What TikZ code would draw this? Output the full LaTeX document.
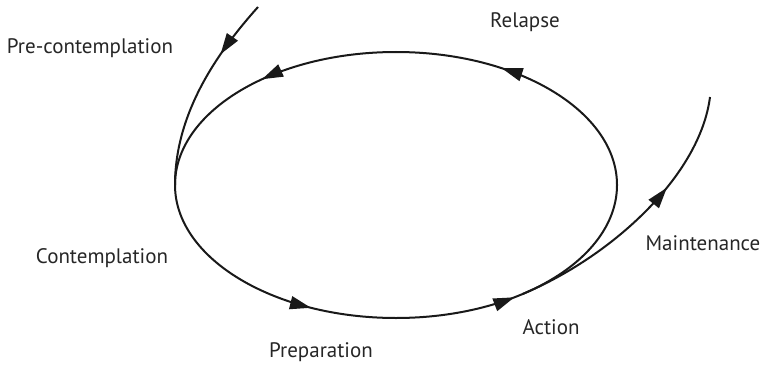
\documentclass[tikz,border=0pt]{standalone}
\usepackage{fontspec}
\setsansfont{PT Sans}
\usetikzlibrary{positioning, calc}
\usetikzlibrary{arrows.meta, decorations.markings}

\begin{document}
\begin{tikzpicture}[x=1pt, y=1pt,
    font=\sffamily\fontsize{21}{24}\selectfont,
    stage/.style={inner sep=0pt, text=black!85},
    flow/.style={line width=2pt, draw=black!90},
    tip/.tip={Triangle[length=21pt, width=13pt]}]
    \useasboundingbox (0,0) rectangle (762,365);

    % the cycle
    \coordinate (C) at (396,180);
    \coordinate (ringE) at (617,180);
    \coordinate (ringW) at (175,180);
    \draw[flow,
          postaction={decorate},
          decoration={markings,
              mark=at position 0.155 with {\arrow{tip}},
              mark=at position 0.372 with {\arrow{tip}},
              mark=at position 0.674 with {\arrow{tip}},
              mark=at position 0.857 with {\arrow{tip}}}]
        (ringE) arc[start angle=0, end angle=360, x radius=221, y radius=133];

    % way in and way out
    \coordinate (in) at (258,358);
    \coordinate (leave) at ($(C)+(305:221 and 133)$);
    \coordinate (out) at (710,268);
    \draw[flow,
          postaction={decorate},
          decoration={markings, mark=at position 0.3 with {\arrow{tip}}}]
        (in) .. controls (215,310) and (175,250) .. (ringW);
    \draw[flow,
          postaction={decorate},
          decoration={markings, mark=at position 0.64 with {\arrow{tip}}}]
        (leave) .. controls (613,109) and (700,190) .. (out);

    % stages
    \node[stage] (pre) at (90,317) {Pre-contemplation};
    \node[stage] (relapse) at (525,343) {Relapse};
    \node[stage] (maint) at (703,122) {Maintenance};
    \node[stage] (contemp) at (102,107) {Contemplation};
    \node[stage] (prep) at (321,13) {Preparation};
    \node[stage] (action) at (551,38) {Action};
\end{tikzpicture}
\end{document}
